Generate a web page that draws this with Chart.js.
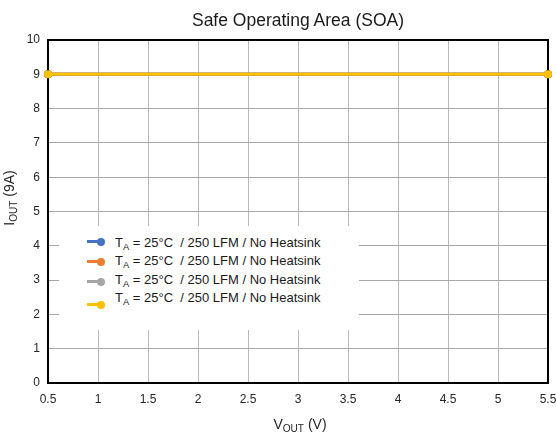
<!DOCTYPE html>
<html>
<head>
<meta charset="utf-8">
<script src="https://cdn.jsdelivr.net/npm/chart.js@4.4.0/dist/chart.umd.min.js"></script>
<style>
  html, body { margin: 0; padding: 0; background: #fff; }
  #wrap { position: relative; width: 556px; height: 434px; font-family: "Liberation Sans", Arial, sans-serif; color: #1a1a1a; }
  #c { position: absolute; left: 0; top: 0; }
  .title { position: absolute; left: 0; width: 596px; top: 10px; text-align: center; font-size: 17.5px; color: #1a1a1a; }
  .xt { position: absolute; left: 250px; width: 100px; top: 416px; text-align: center; font-size: 14px; color: #262626; white-space: nowrap; }
  .yt { position: absolute; left: -41px; top: 190px; width: 100px; text-align: center; font-size: 14px; color: #262626; white-space: nowrap; transform: rotate(-90deg); }
  sub { font-size: 72%; vertical-align: -0.3em; line-height: 0; }
  #legend { position: absolute; left: 59px; top: 226px; width: 300px; height: 104px; background: #fff; }
  .row { position: absolute; left: 56px; font-size: 13px; color: #1a1a1a; white-space: pre; line-height: 16px; }
  .mk { position: absolute; left: 28px; width: 18px; height: 8px; }
  .mk .ln { position: absolute; left: 0; top: 3px; width: 14px; height: 3px; }
  .mk .dt { position: absolute; left: 10px; top: 0.5px; width: 8px; height: 8px; border-radius: 50%; }
</style>
</head>
<body>
<div id="wrap">
  <canvas id="c" width="556" height="434"></canvas>
  <div class="title">Safe Operating Area (SOA)</div>
  <div class="xt">V<sub>OUT</sub> (V)</div>
  <div class="yt">I<sub>OUT</sub> (9A)</div>
  <div id="legend"></div>
</div>
<script>
// ---- data ----
const xValues = [0.5, 5.5];
const seriesNames = [
  "= 25°C  / 250 LFM / No Heatsink",
  "= 25°C  / 250 LFM / No Heatsink",
  "= 25°C  / 250 LFM / No Heatsink",
  "= 25°C  / 250 LFM / No Heatsink"
];
const series1 = [9, 9];
const series2 = [9, 9];
const series3 = [9, 9];
const series4 = [9, 9];
const seriesColors = ["#4472C4", "#ED7D31", "#A5A5A5", "#FFC000"];
const xTickValues = [0.5, 1, 1.5, 2, 2.5, 3, 3.5, 4, 4.5, 5, 5.5];
const yTickValues = [0, 1, 2, 3, 4, 5, 6, 7, 8, 9, 10];

const allSeries = [series1, series2, series3, series4];

// ---- legend (HTML, for subscripts) ----
const legendRowTop = [9, 27, 46, 64];      // text rows (px inside legend box)
const legendMarkTop = [11, 31, 51, 74];    // marker rows
const legend = document.getElementById('legend');
seriesNames.forEach((name, i) => {
  const r = document.createElement('div');
  r.className = 'row';
  r.style.top = legendRowTop[i] + 'px';
  r.innerHTML = 'T<sub>A</sub> ' + name.replace(/</g, '&lt;');
  legend.appendChild(r);
  const m = document.createElement('div');
  m.className = 'mk';
  m.style.top = legendMarkTop[i] + 'px';
  m.innerHTML = '<div class="ln" style="background:' + seriesColors[i] + '"></div><div class="dt" style="background:' + seriesColors[i] + '"></div>';
  legend.appendChild(m);
});

// ---- chart ----
const borderPlugin = {
  id: 'plotBorder',
  afterDatasetsDraw(chart) {
    const a = chart.chartArea, ctx = chart.ctx;
    ctx.save();
    ctx.strokeStyle = '#000';
    ctx.lineWidth = 2;
    ctx.strokeRect(a.left, a.top, a.right - a.left, a.bottom - a.top);
    ctx.restore();
  }
};
const frontPlugin = {
  id: 'front',
  afterDraw(chart) {
    chart.getDatasetMeta(chart.data.datasets.length - 1).controller.draw();
  }
};

new Chart(document.getElementById('c'), {
  type: 'line',
  data: {
    datasets: allSeries.map((s, i) => ({
      label: 'TA ' + seriesNames[i],
      data: s.map((v, j) => ({ x: xValues[j], y: v })),
      borderColor: seriesColors[i],
      backgroundColor: seriesColors[i],
      borderWidth: 3,
      pointRadius: 4,
      pointHoverRadius: 4,
      pointBorderWidth: 0,
      fill: false,
      clip: false,
      tension: 0
    }))
  },
  options: {
    responsive: false,
    animation: false,
    devicePixelRatio: 1,
    layout: { padding: { left: 0, top: 40, right: 8, bottom: 31 } },
    plugins: { legend: { display: false }, title: { display: false }, tooltip: { enabled: false } },
    scales: {
      x: {
        type: 'linear',
        min: 0.5, max: 5.5,
        afterBuildTicks: (sc) => { sc.ticks = xTickValues.map(v => ({ value: v })); },
        afterFit: (sc) => { sc.height = 20; sc.paddingLeft = 0; sc.paddingRight = 0; },
        grid: { color: '#B8B8B8', lineWidth: 1, drawTicks: false },
        border: { display: false },
        ticks: { padding: 9, color: '#262626', font: { family: 'Liberation Sans', size: 12 }, maxRotation: 0, autoSkip: false,
                 callback: (v) => String(v) }
      },
      y: {
        type: 'linear',
        min: 0, max: 10,
        afterBuildTicks: (sc) => { sc.ticks = yTickValues.map(v => ({ value: v })); },
        afterFit: (sc) => { sc.width = 48; sc.paddingTop = 0; sc.paddingBottom = 0; },
        grid: { color: '#A6A6A6', lineWidth: 1, drawTicks: false },
        border: { display: false },
        ticks: { padding: 8, color: '#262626', font: { family: 'Liberation Sans', size: 12 }, autoSkip: false,
                 callback: (v) => String(v) }
      }
    }
  },
  plugins: [borderPlugin, frontPlugin]
});
</script>
</body>
</html>
